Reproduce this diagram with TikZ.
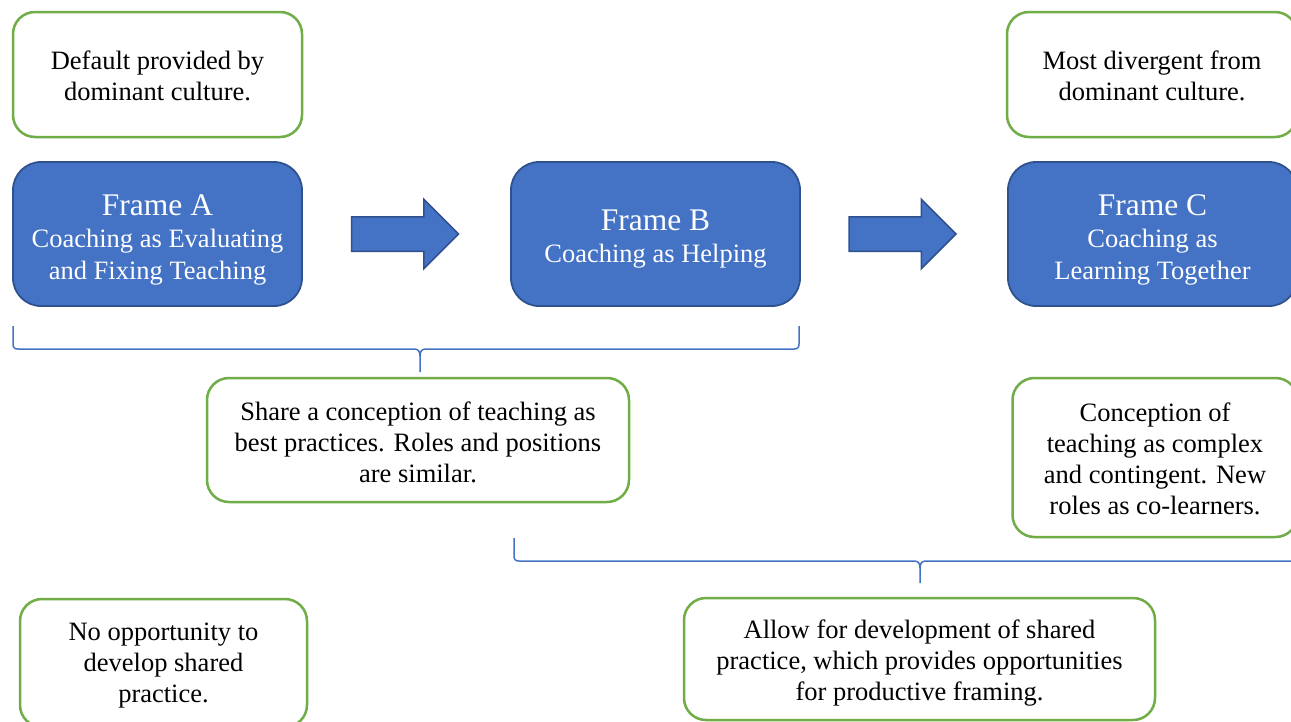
\documentclass[tikz,border=0pt]{standalone}
\usepackage{fontspec}
\setmainfont{Liberation Serif}
\usetikzlibrary{shapes.arrows,calc}

\definecolor{frameblue}{HTML}{4472C4}
\definecolor{frameedge}{HTML}{2F528F}
\definecolor{notegreen}{HTML}{70AD47}
\definecolor{bracecol}{HTML}{4472C4}

\newcommand\bodytext{\fontsize{26.5}{31}\selectfont}
\newcommand\framebody{\fontsize{26.5}{32}\selectfont}
\newcommand\titletext{\fontsize{31.5}{34}\selectfont}

\tikzset{
  note/.style={draw=notegreen, line width=2.5pt, fill=white, rounded corners=22pt,
    inner sep=0pt},
  notetext/.style={align=center, font=\bodytext, text=black, inner sep=0pt},
  framebox/.style={draw=frameedge, line width=1.8pt, fill=frameblue, rounded corners=28pt,
    minimum width=289pt, minimum height=144pt, inner sep=0pt},
  frametext/.style={align=center, text=white, font=\framebody, inner sep=0pt},
  blockarrow/.style={single arrow, draw=frameedge, fill=frameblue, line width=1.5pt,
    minimum height=107pt, single arrow head extend=17.5pt,
    inner xsep=0pt, inner ysep=16.5pt, anchor=tip},
  bracket/.style={draw=bracecol, line width=1.5pt},
}

\begin{document}
\begin{tikzpicture}[x=1pt, y=-1pt]
  \clip (0,0) rectangle (1291,721);
  \fill[white] (0,0) rectangle (1291,721);

  % notes above the frames
  \node[note, minimum width=289pt, minimum height=125pt] (def) at (157.5,74.5) {};
  \node[notetext] (def-t) at ($(def.center)+(0,1.5)$)
    {Default provided by\\dominant culture.};
  \node[note, minimum width=290pt, minimum height=125pt] (div) at (1152,74.5) {};
  \node[notetext] (div-t) at ($(div.center)+(0,1.5)$)
    {Most divergent from\\dominant culture.};

  % the three frames
  \node[framebox] (fa) at (157.5,234) {};
  \node[frametext] (fa-t) at ($(fa.center)+(0,6)$)
    {{\titletext Frame A}\\Coaching as Evaluating\\and Fixing Teaching};
  \node[framebox] (fb) at (655.5,234) {};
  \node[frametext] (fb-t) at ($(fb.center)+(0,5.5)$)
    {{\titletext Frame B}\\Coaching as Helping};
  \node[framebox] (fc) at (1152.5,234) {};
  \node[frametext] (fc-t) at ($(fc.center)+(0,6)$)
    {{\titletext Frame C}\\Coaching as\\Learning Together};

  % block arrows between frames, tips set back from the next frame
  \node[blockarrow] (ab) at ($(fb.west)+(-50.5,0)$) {};
  \node[blockarrow] (bc) at ($(fc.west)+(-50,0)$) {};

  % notes below the frames
  \node[note, minimum width=422pt, minimum height=124pt] (share) at (418,440) {};
  \node[notetext] (share-t) at ($(share.center)+(0,2.5)$)
    {Share a conception of teaching as\\best practices. Roles and positions\\are similar.};
  \node[note, minimum width=285pt, minimum height=159pt] (concep) at (1155,457.5) {};
  \node[notetext] (concep-t) at ($(concep.center)+(0,1.5)$)
    {Conception of\\teaching as complex\\and contingent. New\\roles as co-learners.};
  \node[note, minimum width=287pt, minimum height=128pt] (noopp) at (163.5,663) {};
  \node[notetext] (noopp-t) at ($(noopp.center)+(0,3)$)
    {No opportunity to\\develop shared\\practice.};
  \node[note, minimum width=471pt, minimum height=122pt] (allow) at (919.5,659) {};
  \node[notetext] (allow-t) at ($(allow.center)+(0,4)$)
    {Allow for development of shared\\practice, which provides opportunities\\for productive framing.};

  % brace grouping frames A and B
  \coordinate (b1l) at (13,326);
  \coordinate (b1r) at (799,326);
  \coordinate (b1tip) at (420,372);
  \draw[bracket] (b1l) -- (13,344) .. controls (13,347.5) and (14.5,349) .. (18,349)
    -- (414,349) .. controls (418,349) and (420,351) .. (420,356) -- (b1tip);
  \draw[bracket] (420,356) .. controls (420,351) and (422,349) .. (426,349)
    -- (794,349) .. controls (797.5,349) and (799,347.5) .. (799,344) -- (b1r);

  % brace grouping frames B and C
  \coordinate (b2l) at (514,538);
  \coordinate (b2r) at (1326,538);
  \coordinate (b2tip) at (920,583);
  \draw[bracket] (b2l) -- (514,556) .. controls (514,559.5) and (515.5,561) .. (519,561)
    -- (914,561) .. controls (918,561) and (920,563) .. (920,568) -- (b2tip);
  \draw[bracket] (920,568) .. controls (920,563) and (922,561) .. (926,561)
    -- (1321,561) .. controls (1324.5,561) and (1326,559.5) .. (1326,556) -- (b2r);
\end{tikzpicture}
\end{document}
